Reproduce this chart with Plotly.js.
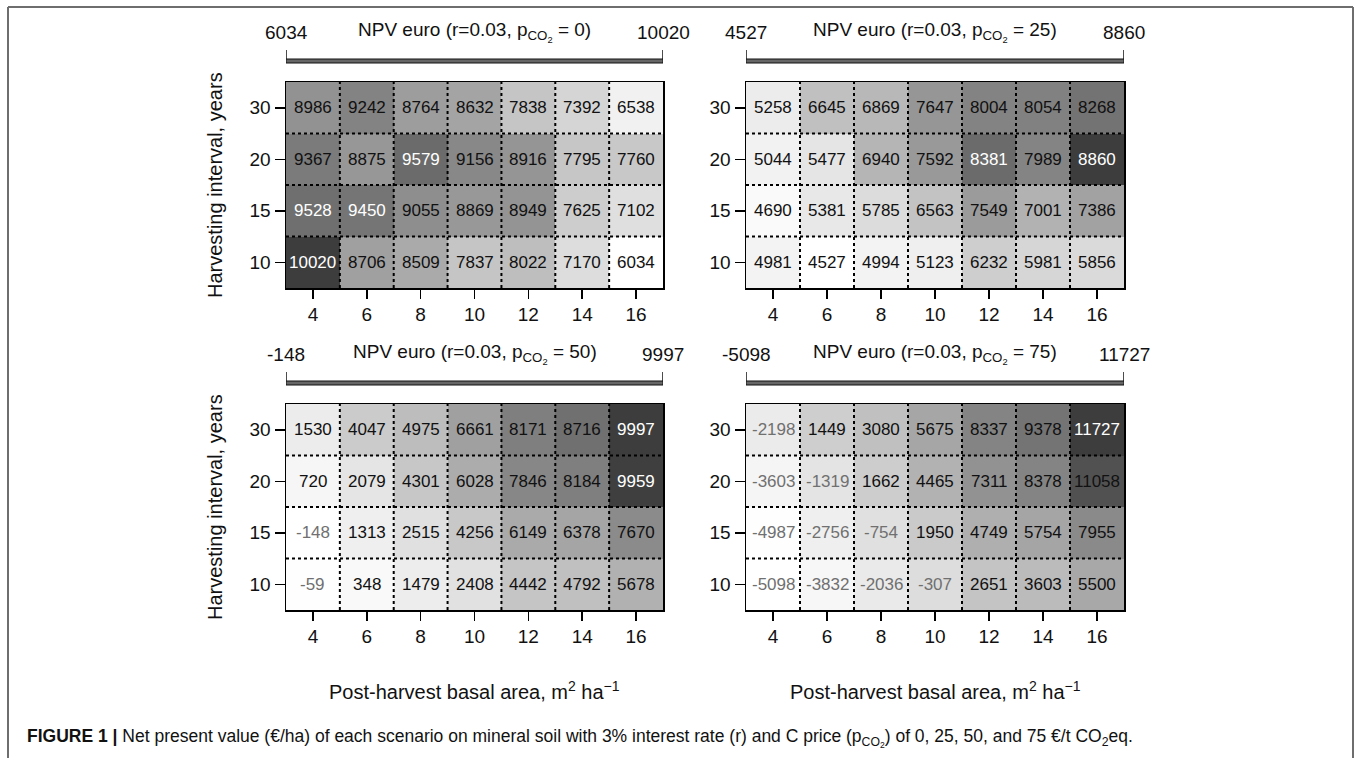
<!DOCTYPE html>
<html>
<head>
<meta charset="utf-8">
<script src="https://cdn.plot.ly/plotly-3.0.1.min.js"></script>
<style>html,body{margin:0;padding:0;background:#fff;}#chart{width:1356px;height:758px;}</style>
</head>
<body>
<div id="chart"></div>
<script>
// ---- data ----
const basalArea = [4, 6, 8, 10, 12, 14, 16];          // x categories, m2 ha-1
const harvestInterval = [10, 15, 20, 30];             // y categories, years
const priceCO2 = [0, 25, 50, 75];                     // panel C prices
// rows ordered by harvestInterval (10, 15, 20, 30)
const npvP0 = [
  [10020, 8706, 8509, 7837, 8022, 7170, 6034],
  [9528, 9450, 9055, 8869, 8949, 7625, 7102],
  [9367, 8875, 9579, 9156, 8916, 7795, 7760],
  [8986, 9242, 8764, 8632, 7838, 7392, 6538]
];
const npvP25 = [
  [4981, 4527, 4994, 5123, 6232, 5981, 5856],
  [4690, 5381, 5785, 6563, 7549, 7001, 7386],
  [5044, 5477, 6940, 7592, 8381, 7989, 8860],
  [5258, 6645, 6869, 7647, 8004, 8054, 8268]
];
const npvP50 = [
  [-59, 348, 1479, 2408, 4442, 4792, 5678],
  [-148, 1313, 2515, 4256, 6149, 6378, 7670],
  [720, 2079, 4301, 6028, 7846, 8184, 9959],
  [1530, 4047, 4975, 6661, 8171, 8716, 9997]
];
const npvP75 = [
  [-5098, -3832, -2036, -307, 2651, 3603, 5500],
  [-4987, -2756, -754, 1950, 4749, 5754, 7955],
  [-3603, -1319, 1662, 4465, 7311, 8378, 11058],
  [-2198, 1449, 3080, 5675, 8337, 9378, 11727]
];
const panels = [npvP0, npvP25, npvP50, npvP75];
// label colour rule: white text above this value in each panel
const whiteAbove = [9400, 8300, 9900, 11500];

// ---- styling / layout ----
const W = 1356, H = 758;
const px = v => v / W;
const py = v => 1 - v / H;
const FONT = 'Liberation Sans, Arial, Helvetica, sans-serif';

function grayScale(n) {
  const s = 1, e = 0.24, g = 2.2, out = [];
  for (let k = 0; k <= n; k++) {
    const t = k / n;
    const lev = Math.pow(Math.pow(s, g) + t * (Math.pow(e, g) - Math.pow(s, g)), 1 / g);
    const c = Math.round(lev * 255);
    out.push([t, `rgb(${c},${c},${c})`]);
  }
  return out;
}
const cscale = grayScale(40);

// panel geometry in pixels: [left, right, top, bottom]
const geo = [
  [286, 663, 82, 288],
  [746, 1124, 82, 288],
  [286, 663, 404, 610],
  [746, 1124, 404, 610]
];

// category positions (index along axis)
const xi = basalArea.map((_, j) => j);
const yi = harvestInterval.map((_, i) => i);
const nx = basalArea.length, ny = harvestInterval.length;

const data = [];
const layout = {
  width: W, height: H,
  margin: {l: 0, r: 0, t: 0, b: 0},
  paper_bgcolor: '#fff', plot_bgcolor: '#fff',
  showlegend: false,
  font: {family: FONT, color: '#111'},
  shapes: [], annotations: []
};

panels.forEach((z, p) => {
  const n = p === 0 ? '' : String(p + 1);
  const xa = 'x' + n, ya = 'y' + n;
  const [L, R, T, B] = geo[p];
  const flat = z.flat();
  const zmin = Math.min(...flat), zmax = Math.max(...flat);

  data.push({
    type: 'heatmap', x: xi, y: yi, z: z,
    xaxis: xa, yaxis: ya,
    zmin: zmin, zmax: zmax,
    colorscale: cscale, showscale: false,
    hoverinfo: 'skip'
  });

  const axCommon = {
    type: 'linear', ticks: 'outside', tickwidth: 1.5, tickcolor: '#000',
    showline: true, mirror: true, linecolor: '#000', linewidth: 1.5,
    showgrid: false, zeroline: false, fixedrange: true,
    tickfont: {family: FONT, size: 19, color: '#111'}
  };
  layout['xaxis' + n] = Object.assign({}, axCommon, {
    domain: [px(L), px(R)], anchor: ya, ticklen: 9,
    range: [-0.5, nx - 0.5], tickmode: 'array', tickvals: xi, ticktext: basalArea.map(String)
  });
  layout['yaxis' + n] = Object.assign({}, axCommon, {
    domain: [py(B), py(T)], anchor: xa, ticklen: 10,
    range: [-0.5, ny - 0.5], tickmode: 'array', tickvals: yi, ticktext: harvestInterval.map(String)
  });

  // dotted cell separators
  for (let j = 0; j < nx - 1; j++) {
    layout.shapes.push({type: 'line', xref: xa, yref: ya,
      x0: j + 0.5, x1: j + 0.5, y0: -0.5, y1: ny - 0.5,
      line: {color: '#000', width: 2, dash: 'dot'}});
  }
  for (let i = 0; i < ny - 1; i++) {
    layout.shapes.push({type: 'line', xref: xa, yref: ya,
      x0: -0.5, x1: nx - 0.5, y0: i + 0.5, y1: i + 0.5,
      line: {color: '#000', width: 2, dash: 'dot'}});
  }

  // cell labels
  z.forEach((row, i) => row.forEach((v, j) => {
    const col = v < 0 ? '#707070' : (v >= whiteAbove[p] ? '#ffffff' : '#111111');
    layout.annotations.push({xref: xa, yref: ya, x: xi[j], y: yi[i],
      text: String(v), showarrow: false,
      font: {family: FONT, size: 17, color: col}});
  }));

  // legend bracket (range bar)
  const barTop = T - 23, barBot = T - 19, tickTop = T - 32;
  layout.shapes.push({type: 'rect', xref: xa, yref: 'paper',
    x0: -0.5, x1: nx - 0.5, y0: py(barBot), y1: py(barTop),
    line: {color: '#111', width: 1}, fillcolor: '#666'});
  [-0.5, nx - 0.5].forEach(xv => {
    layout.shapes.push({type: 'line', xref: xa, yref: 'paper',
      x0: xv, x1: xv, y0: py(barTop), y1: py(tickTop),
      line: {color: '#111', width: 1.5}});
  });
  const labY = py(T - 50);
  layout.annotations.push({xref: xa, yref: 'paper', x: -0.5, y: labY,
    text: String(zmin), showarrow: false, xanchor: 'center', yanchor: 'middle',
    font: {family: FONT, size: 19, color: '#111'}});
  layout.annotations.push({xref: xa, yref: 'paper', x: nx - 0.5, y: labY,
    text: String(zmax), showarrow: false, xanchor: 'center', yanchor: 'middle',
    font: {family: FONT, size: 19, color: '#111'}});
  layout.annotations.push({xref: 'paper', yref: 'paper', x: px((L + R) / 2), y: labY,
    text: 'NPV euro (r=0.03, p<sub>CO<sub>2</sub></sub> = ' + priceCO2[p] + ')',
    showarrow: false, xanchor: 'center', yanchor: 'middle',
    font: {family: FONT, size: 19, color: '#111'}});

  // axis titles
  if (p === 0 || p === 2) {
    layout.annotations.push({xref: 'paper', yref: 'paper', x: px(215), y: py((T + B) / 2),
      text: 'Harvesting interval, years', textangle: -90, showarrow: false,
      xanchor: 'center', yanchor: 'middle',
      font: {family: FONT, size: 20, color: '#111'}});
  }
  if (p >= 2) {
    layout.annotations.push({xref: 'paper', yref: 'paper', x: px((L + R) / 2), y: py(690),
      text: 'Post-harvest basal area, m<sup>2</sup> ha<sup>\u22121</sup>', showarrow: false,
      xanchor: 'center', yanchor: 'middle',
      font: {family: FONT, size: 20, color: '#111'}});
  }
});

// figure frame
const frameCol = '#6e6e6e';
layout.shapes.push({type: 'line', xref: 'paper', yref: 'paper', x0: px(8), x1: px(1353), y0: py(7), y1: py(7), line: {color: frameCol, width: 2}});
layout.shapes.push({type: 'line', xref: 'paper', yref: 'paper', x0: px(8), x1: px(8), y0: py(7), y1: py(760), line: {color: frameCol, width: 2}});
layout.shapes.push({type: 'line', xref: 'paper', yref: 'paper', x0: px(1353), x1: px(1353), y0: py(7), y1: py(760), line: {color: frameCol, width: 2}});

// caption
layout.annotations.push({xref: 'paper', yref: 'paper', x: px(25), y: py(738),
  xanchor: 'left', yanchor: 'middle', showarrow: false,
  text: '<b>FIGURE 1 |</b> Net present value (\u20ac/ha) of each scenario on mineral soil with 3% interest rate (r) and C price (p<sub>CO<sub>2</sub></sub>) of 0, 25, 50, and 75 \u20ac/t CO<sub>2</sub>eq.',
  font: {family: FONT, size: 17.5, color: '#111'}});

Plotly.newPlot('chart', data, layout, {displayModeBar: false, staticPlot: true});
</script>
</body>
</html>
